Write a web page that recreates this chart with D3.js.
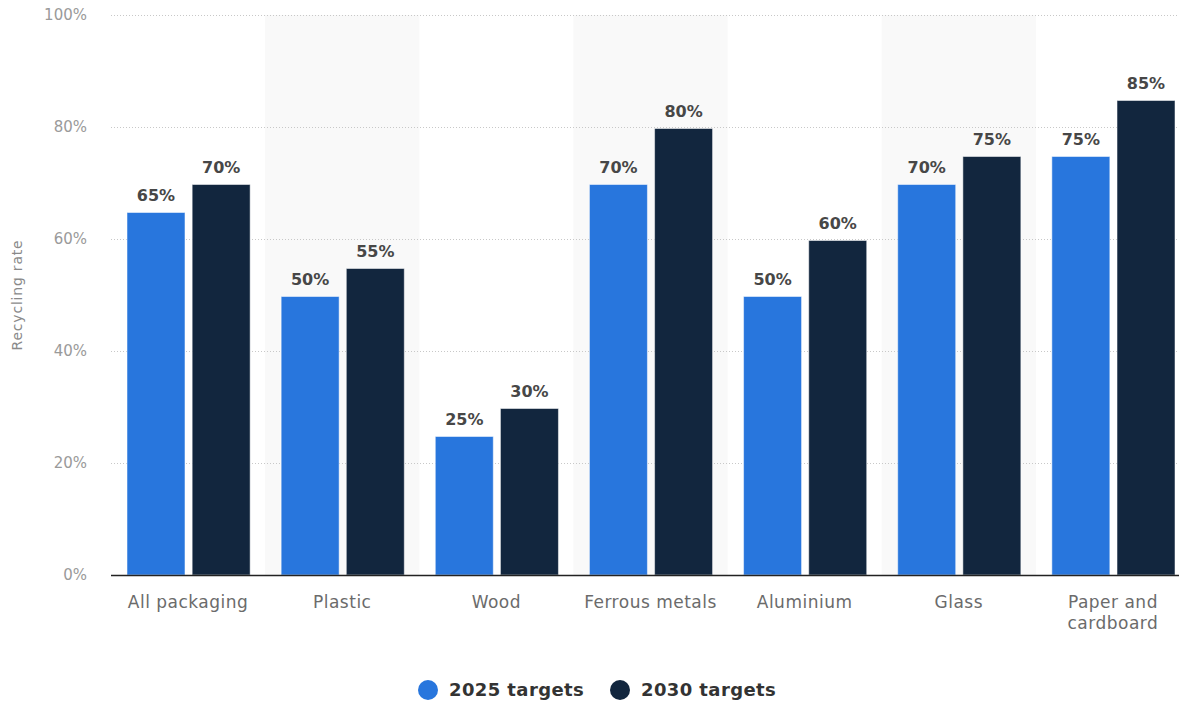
<!DOCTYPE html>
<html>
<head>
<meta charset="utf-8">
<script src="https://cdn.jsdelivr.net/npm/d3@7"></script>
<style>
  body { margin: 0; background: #fff; }
  svg { font-family: "DejaVu Sans", Verdana, sans-serif; }
</style>
</head>
<body>
<svg id="chart" width="1179" height="704"></svg>
<script>
// chart data
var categories = ["All packaging", "Plastic", "Wood", "Ferrous metals", "Aluminium", "Glass", "Paper and cardboard"];
var seriesNames = ["2025 targets", "2030 targets"];
var targets2025 = [65, 50, 25, 70, 50, 70, 75];
var targets2030 = [70, 55, 30, 80, 60, 75, 85];
var yTicks = [0, 20, 40, 60, 80, 100];

var COLORS = ["#2876dd", "#12263e"];
// plot runs past the right edge of the window, like the original
var LEFT = 111, RIGHT = 1190, TOP = 15, BOTTOM = 575, VIEW_W = 1179;

var svg = d3.select("#chart");

var x = d3.scaleBand()
  .domain(categories)
  .range([LEFT, RIGHT]);

var inner = d3.scaleBand()
  .domain(seriesNames)
  .range([16, x.bandwidth() - 15])
  .paddingInner(0.11);

var y = d3.scaleLinear()
  .domain([0, 100])
  .range([BOTTOM, TOP]);

// alternating background bands
svg.append("g").selectAll("rect")
  .data(categories.filter(function (d, i) { return i % 2 == 1; }))
  .enter().append("rect")
  .attr("x", function (d) { return x(d); })
  .attr("y", TOP)
  .attr("width", x.bandwidth())
  .attr("height", BOTTOM - TOP)
  .attr("fill", "#f9f9f9");

// grid lines
svg.append("g").selectAll("line")
  .data(yTicks.filter(function (d) { return d > 0; }))
  .enter().append("line")
  .attr("x1", LEFT)
  .attr("x2", VIEW_W)
  .attr("y1", function (d) { return y(d) + 0.5; })
  .attr("y2", function (d) { return y(d) + 0.5; })
  .attr("stroke", "#c8c8c8")
  .attr("stroke-dasharray", "1,2");

// y tick labels
var yAxis = svg.append("g")
  .attr("transform", "translate(" + (LEFT - 24) + ",0)")
  .call(d3.axisLeft(y).tickValues(yTicks).tickSize(0).tickFormat(function (d) { return d + "%"; }));
yAxis.select(".domain").remove();
yAxis.selectAll("text")
  .attr("x", 0)
  .style("font-family", "\"DejaVu Sans\", Verdana, sans-serif")
  .style("font-size", "15px")
  .attr("fill", "#9a9a9a");

svg.append("text")
  .attr("transform", "translate(22," + ((TOP + BOTTOM) / 2) + ") rotate(-90)")
  .attr("text-anchor", "middle")
  .style("font-size", "14px")
  .style("letter-spacing", "0.8px")
  .attr("fill", "#8a8a8a")
  .text("Recycling rate");

// bars
var rows = categories.map(function (c, i) {
  return { cat: c, vals: [targets2025[i], targets2030[i]] };
});

var groups = svg.append("g").selectAll("g")
  .data(rows)
  .enter().append("g")
  .attr("transform", function (d) { return "translate(" + x(d.cat) + ",0)"; });

groups.selectAll("rect")
  .data(function (d) { return d.vals.map(function (v, j) { return { s: seriesNames[j], v: v, j: j }; }); })
  .enter().append("rect")
  .attr("x", function (d) { return inner(d.s); })
  .attr("y", function (d) { return y(d.v) + 1.5; })
  .attr("width", inner.bandwidth())
  .attr("height", function (d) { return BOTTOM - y(d.v) - 1.5; })
  .attr("fill", function (d) { return COLORS[d.j]; })
  .attr("stroke", "#ffffff")
  .attr("stroke-opacity", 0.5)
  .attr("stroke-width", 1);

groups.selectAll("text")
  .data(function (d) { return d.vals.map(function (v, j) { return { s: seriesNames[j], v: v }; }); })
  .enter().append("text")
  .attr("x", function (d) { return inner(d.s) + inner.bandwidth() / 2; })
  .attr("y", function (d) { return y(d.v) - 10; })
  .attr("text-anchor", "middle")
  .style("font-size", "16px")
  .style("font-weight", "bold")
  .attr("fill", "#474747")
  .text(function (d) { return d.v + "%"; });

// baseline
svg.append("line")
  .attr("x1", LEFT)
  .attr("x2", VIEW_W)
  .attr("y1", BOTTOM + 0.5)
  .attr("y2", BOTTOM + 0.5)
  .attr("stroke", "#222")
  .attr("stroke-width", 1.5);

// x labels (wrap long ones)
var xLabels = svg.append("g").selectAll("text")
  .data(categories)
  .enter().append("text")
  .attr("text-anchor", "middle")
  .attr("y", 608)
  .style("font-size", "17px")
  .style("letter-spacing", "0.5px")
  .attr("fill", "#6b6b6b");

xLabels.each(function (d) {
  var t = d3.select(this);
  var cx = x(d) + x.bandwidth() / 2;
  var lines = [d];
  if (d.length > 16) {
    var words = d.split(" ");
    lines = [words.slice(0, 2).join(" "), words.slice(2).join(" ")];
  }
  lines.forEach(function (l, k) {
    t.append("tspan").attr("x", cx).attr("dy", k == 0 ? 0 : 21).text(l);
  });
});

// legend
var legend = svg.append("g").attr("transform", "translate(0,690)");
var legendX = [428, 620];
seriesNames.forEach(function (s, i) {
  legend.append("circle")
    .attr("cx", legendX[i])
    .attr("cy", 0)
    .attr("r", 10)
    .attr("fill", COLORS[i]);
  legend.append("text")
    .attr("x", legendX[i] + 21)
    .attr("y", 0)
    .attr("dy", "0.35em")
    .style("font-size", "18px")
    .style("letter-spacing", "0.4px")
    .style("font-weight", "bold")
    .attr("fill", "#333")
    .text(s);
});
</script>
</body>
</html>
